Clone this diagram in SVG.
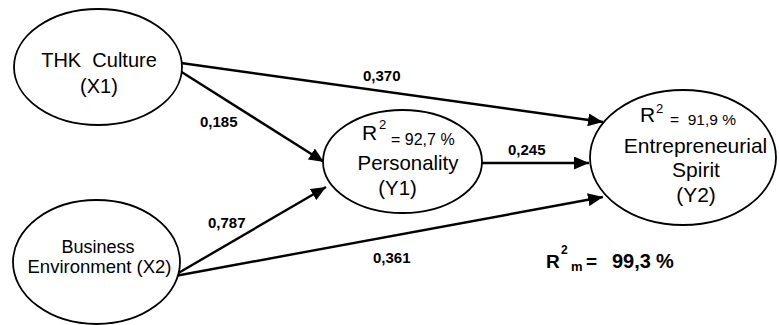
<svg xmlns="http://www.w3.org/2000/svg" width="779" height="325" viewBox="0 0 779 325">
<style>
.node ellipse{fill:#fff;stroke:#000;stroke-width:1.8}
.t{font-family:"Liberation Sans",Arial,sans-serif;fill:#000}
.n{font-size:20px;text-anchor:middle}
.lbl{font-family:"Liberation Sans",Arial,sans-serif;font-weight:bold;font-size:15px;fill:#000}
.edge{stroke:#000;stroke-width:2.4;fill:none;marker-end:url(#ah)}
</style>
<defs>
<marker id="ah" markerUnits="userSpaceOnUse" markerWidth="16" markerHeight="13" refX="15" refY="6.5" orient="auto">
<path d="M0,0 L15,6.5 L0,13 z" fill="#000"/>
</marker>
</defs>
<g id="connectors">
<line class="edge" x1="181" y1="63" x2="603" y2="122"/>
<line class="edge" x1="180" y1="71" x2="324" y2="162"/>
<line class="edge" x1="175" y1="275" x2="326" y2="187"/>
<line class="edge" x1="175" y1="276" x2="603" y2="197"/>
<line class="edge" x1="482" y1="163" x2="589" y2="163"/>
</g>
<g id="thk" class="node">
<ellipse cx="98" cy="67" rx="84" ry="58"/>
<text class="t n" x="99" y="67" style="white-space:pre">THK  Culture</text>
<text class="t n" x="99" y="93">(X1)</text>
</g>
<g id="business" class="node">
<ellipse cx="96.5" cy="262" rx="83.5" ry="62"/>
<text class="t" x="98" y="253" font-size="18" text-anchor="middle">Business</text>
<text class="t" x="99.5" y="273" font-size="18.5" text-anchor="middle">Environment (X2)</text>
</g>
<g id="personality" class="node">
<ellipse cx="402.5" cy="161.5" rx="79.5" ry="51.5"/>
<text class="t" x="362" y="140" font-size="21">R</text>
<text class="t" x="379" y="129" font-size="13">2</text>
<text class="t" x="391" y="145" font-size="16">= 92,7 %</text>
<text class="t" x="408" y="170" font-size="20.4" text-anchor="middle">Personality</text>
<text class="t" x="397.5" y="195" font-size="20.4" text-anchor="middle">(Y1)</text>
</g>
<g id="entrepreneurial" class="node">
<ellipse cx="683" cy="157.5" rx="93" ry="67.5"/>
<text class="t" x="640" y="122" font-size="21">R</text>
<text class="t" x="656" y="113" font-size="13">2</text>
<text class="t" x="670" y="125" font-size="15.5" style="white-space:pre">=  91,9 %</text>
<text class="t" x="695.5" y="153" font-size="21" text-anchor="middle">Entrepreneurial</text>
<text class="t" x="696" y="177" font-size="21" text-anchor="middle">Spirit</text>
<text class="t" x="696" y="202" font-size="21" text-anchor="middle">(Y2)</text>
</g>
<g id="labels">
<text class="lbl" x="363" y="81">0,370</text>
<text class="lbl" x="200" y="127">0,185</text>
<text class="lbl" x="508" y="155">0,245</text>
<text class="lbl" x="208" y="228">0,787</text>
<text class="lbl" x="373" y="263">0,361</text>
</g>
<g id="r2m">
<text class="lbl" x="546" y="268" style="font-size:19px">R</text>
<text class="lbl" x="561" y="254" style="font-size:12px">2</text>
<text class="lbl" x="571" y="271" style="font-size:13px">m</text>
<text class="lbl" x="586" y="268" style="font-size:19px">=</text>
<text class="lbl" x="612" y="268" style="font-size:20px">99,3</text>
<text class="lbl" x="656" y="268" style="font-size:20px">%</text>
</g>
</svg>
